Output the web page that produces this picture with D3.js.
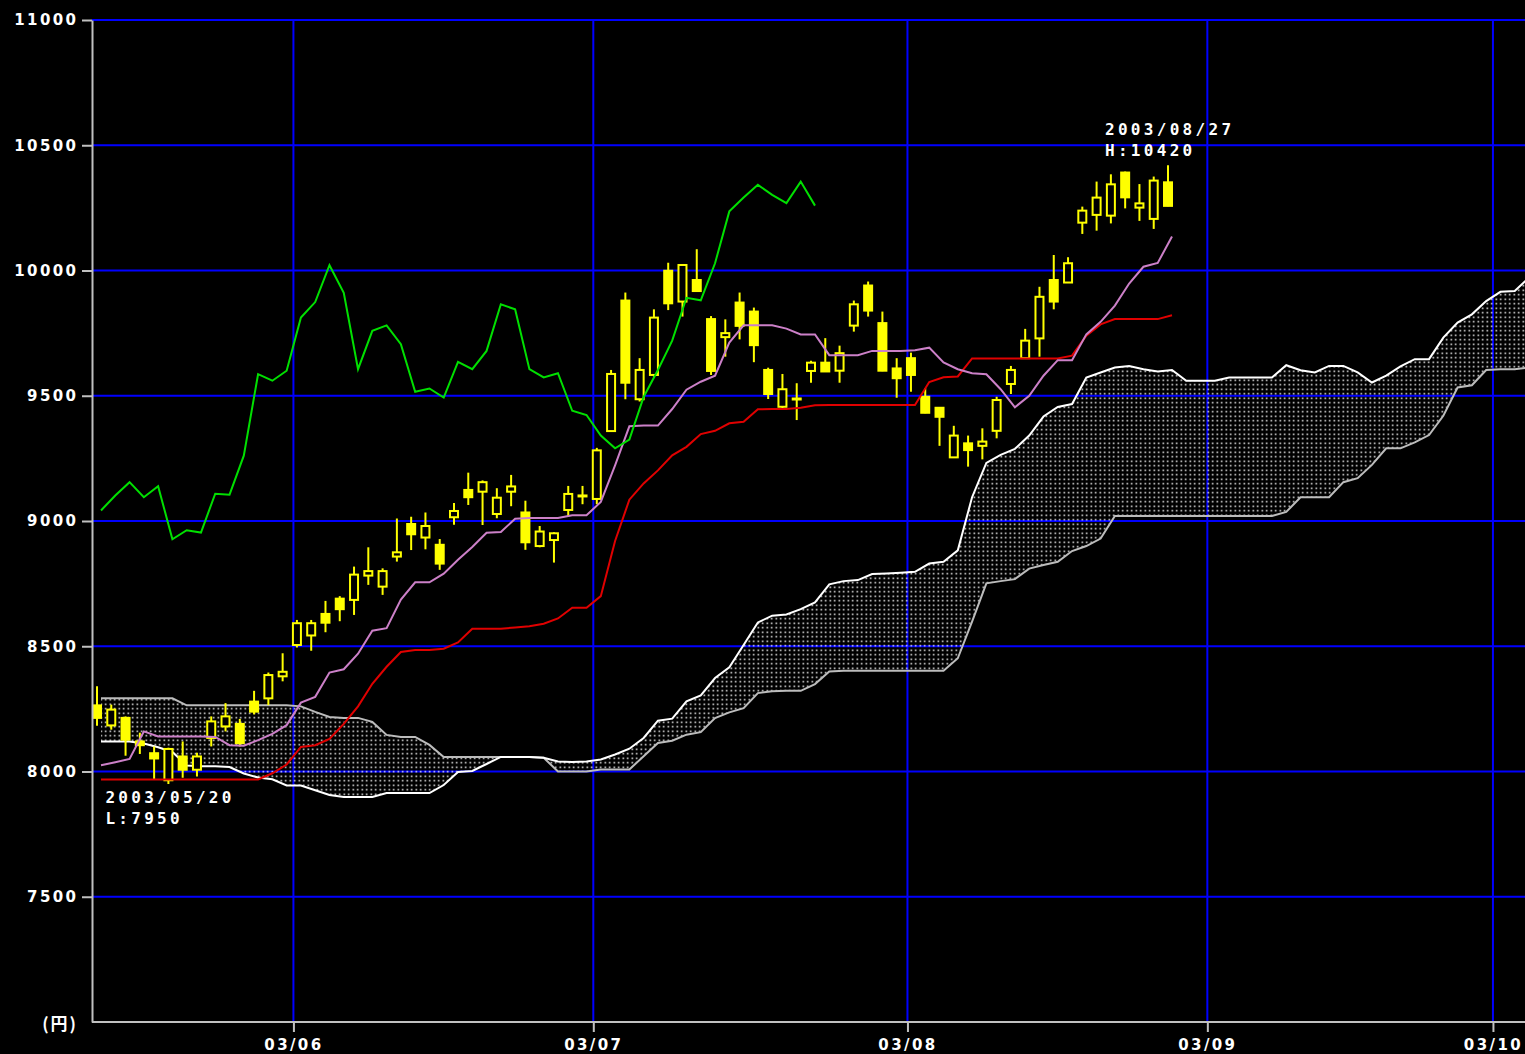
<!DOCTYPE html>
<html>
<head>
<meta charset="utf-8">
<script src="https://cdn.jsdelivr.net/npm/d3@7"></script>
<style>
body { margin: 0; background: #000; }
svg { display: block; background: #000; }
</style>
</head>
<body>
<svg id="chart" width="1525" height="1054"></svg>
<script>
/*=================
=== Data (daily candles 2003/05/13 .. 2003/08/27, index 0..75)
=================*/
const opens = [8264, 8184, 8214, 8120, 8073, 7965, 8060, 8007, 8134, 8180, 8190, 8279, 8292, 8380, 8505, 8543, 8629, 8690, 8685, 8782,
	8738, 8858, 8988, 8934, 8905, 9015, 9124, 9117, 9028, 9117, 9034, 8900, 8924, 9044, 9098, 9088, 9359, 9880, 9486, 9583,
	9999, 9876, 9962, 9806, 9734, 9872, 9836, 9603, 9456, 9485, 9599, 9632, 9600, 9780, 9940, 9790, 9609, 9650, 9496, 9452,
	9254, 9310, 9300, 9360, 9547, 9650, 9729, 9962, 9952, 10191, 10222, 10219, 10391, 10251, 10206, 10352];
const highs = [8340, 8267, 8220, 8155, 8100, 8095, 8120, 8075, 8220, 8273, 8210, 8322, 8395, 8472, 8605, 8605, 8681, 8700, 8818, 8895,
	8811, 9010, 9017, 9034, 8928, 9072, 9193, 9162, 9131, 9184, 9081, 8980, 8955, 9140, 9140, 9292, 9603, 9912, 9650, 9845,
	10031, 10025, 10085, 9818, 9805, 9912, 9852, 9612, 9587, 9550, 9640, 9730, 9700, 9880, 9956, 9836, 9650, 9672, 9530, 9455,
	9380, 9341, 9370, 9496, 9619, 9767, 9935, 10062, 10053, 10255, 10355, 10384, 10395, 10345, 10375, 10420];
const lows = [8183, 8167, 8063, 8070, 7968, 7950, 7975, 7980, 8100, 8160, 8100, 8228, 8265, 8360, 8495, 8482, 8556, 8600, 8625, 8745,
	8705, 8838, 8884, 8887, 8805, 8985, 9064, 8984, 9011, 9059, 8885, 8895, 8834, 9017, 9067, 9067, 9357, 9486, 9477, 9576,
	9842, 9816, 9915, 9583, 9656, 9725, 9634, 9487, 9443, 9403, 9552, 9595, 9552, 9756, 9816, 9598, 9492, 9516, 9430, 9300,
	9252, 9217, 9246, 9330, 9507, 9648, 9656, 9845, 9950, 10146, 10159, 10188, 10248, 10198, 10166, 10256];
const closes = [8214, 8247, 8127, 8105, 8052, 8090, 8007, 8060, 8200, 8220, 8113, 8239, 8385, 8398, 8592, 8592, 8594, 8648, 8786, 8800,
	8800, 8875, 8947, 8980, 8830, 9040, 9095, 9155, 9093, 9138, 8915, 8958, 8951, 9108, 9102, 9282, 9587, 9552, 9603, 9812,
	9869, 10022, 9918, 9599, 9750, 9779, 9702, 9507, 9526, 9489, 9632, 9597, 9670, 9865, 9840, 9600, 9570, 9583, 9432, 9416,
	9341, 9283, 9317, 9483, 9603, 9720, 9895, 9876, 10029, 10239, 10291, 10344, 10292, 10268, 10359, 10258];

// Conversion line (pink), base line (red)
const tenkan = [8025, 8037, 8050, 8160, 8140, 8140, 8140, 8140, 8138, 8105, 8103, 8125, 8150, 8185, 8275, 8298, 8395, 8408, 8470, 8562,
	8572, 8686, 8755, 8755, 8790, 8845, 8896, 8953, 8956, 9009, 9012, 9012, 9012, 9023, 9023, 9076, 9222, 9378, 9381, 9381,
	9447, 9524, 9556, 9580, 9712, 9781, 9781, 9781, 9768, 9745, 9745, 9662, 9662, 9662, 9679, 9679, 9679, 9682, 9692, 9633,
	9606, 9590, 9586, 9526, 9454, 9500, 9580, 9642, 9642, 9745, 9795, 9860, 9948, 10015, 10030, 10136];
const kijun = [7968, 7968, 7968, 7968, 7968, 7968, 7968, 7968, 7968, 7968, 7968, 7968, 7993, 8028, 8098, 8105, 8130, 8190, 8260, 8350,
	8418, 8477, 8485, 8485, 8490, 8515, 8570, 8570, 8570, 8575, 8580, 8590, 8611, 8654, 8654, 8700, 8920, 9085, 9150, 9202,
	9262, 9296, 9347, 9360, 9390, 9396, 9446, 9447, 9447, 9452, 9462, 9463, 9463, 9463, 9463, 9463, 9463, 9463, 9555, 9574,
	9577, 9649, 9649, 9649, 9649, 9649, 9649, 9649, 9660, 9740, 9785, 9806, 9806, 9806, 9806, 9821];

// Lagging line (green), plotted 25 sessions back
const chikou = [9042, 9102, 9155, 9095, 9139, 8927, 8963, 8954, 9109, 9105, 9261, 9586, 9560, 9600, 9812, 9874, 10021, 9911, 9606, 9759,
	9781, 9706, 9516, 9529, 9493, 9635, 9606, 9679, 9865, 9845, 9606, 9573, 9590, 9440, 9423, 9341, 9290, 9325, 9495, 9603,
	9720, 9891, 9881, 10029, 10236, 10291, 10342, 10302, 10269, 10355, 10259];

// Leading spans (cloud), plotted 25 sessions ahead
const senkouA = [8120, 8120, 8120, 8112, 8097, 8078, 8024, 8021, 8021, 8018, 7992, 7976, 7969, 7944, 7944, 7925, 7906, 7898, 7898, 7898,
	7914, 7914, 7914, 7914, 7946, 7998, 8002, 8030, 8058, 8058, 8058, 8055, 8040, 8038, 8040, 8048, 8068, 8091, 8134, 8203,
	8211, 8280, 8304, 8373, 8416, 8505, 8595, 8622, 8627, 8648, 8675, 8747, 8760, 8764, 8788, 8790, 8793, 8797, 8830, 8837,
	8883, 9095, 9232, 9264, 9288, 9341, 9417, 9455, 9467, 9573, 9593, 9613, 9619, 9606, 9597, 9603, 9560, 9560, 9560, 9573,
	9573, 9573, 9573, 9622, 9602, 9593, 9619, 9619, 9593, 9553, 9580, 9617, 9646, 9646, 9732, 9792, 9825, 9878, 9915, 9918,
	9971];
const senkouB = [8292, 8292, 8292, 8292, 8292, 8292, 8264, 8264, 8264, 8264, 8264, 8264, 8264, 8264, 8260, 8238, 8218, 8214, 8214, 8198,
	8146, 8138, 8138, 8106, 8058, 8058, 8058, 8058, 8058, 8058, 8058, 8055, 8000, 8000, 8000, 8008, 8008, 8008, 8061, 8114,
	8123, 8147, 8157, 8213, 8236, 8253, 8313, 8320, 8322, 8322, 8349, 8399, 8402, 8402, 8402, 8402, 8402, 8402, 8402, 8402,
	8452, 8598, 8751, 8760, 8768, 8810, 8824, 8837, 8880, 8900, 8930, 9020, 9020, 9020, 9020, 9020, 9020, 9020, 9020, 9020,
	9020, 9020, 9020, 9036, 9095, 9095, 9095, 9155, 9171, 9224, 9290, 9290, 9314, 9343, 9420, 9533, 9542, 9603, 9606, 9606,
	9613];

// Axis ticks
const priceTicks = [7500, 8000, 8500, 9000, 9500, 10000, 10500, 11000];
const monthTicks = [14, 35, 57, 78, 98]; // first session of each month
const monthLabels = ['03/06', '03/07', '03/08', '03/09', '03/10'];

// Low / high notes
const lowNote = { index: 5, lines: ['2003/05/20', 'L:7950'], value: 7950 };
const highNote = { index: 75, lines: ['2003/08/27', 'H:10420'], value: 10420 };

/*=================
=== Scales & setup
=================*/
const svg = d3.select('#chart');
const plot = { left: 92, right: 1525, top: 20, bottom: 1022 };

const xScale = d3.scaleLinear().domain([0, 100]).range([97, 1525]); // one session ~14.28px
const yScale = d3.scaleLinear().domain([7000, 11000]).range([plot.bottom, plot.top]);

const lineShift = 4;   // lines sit a bit right of candle centres
const gridShift = -3.5; // month gridlines sit a bit left

const colors = {
	grid: '#0000ff',
	axis: '#c0c0c0',
	candle: '#ffff00',
	tenkan: '#cc80c8',
	kijun: '#e00000',
	chikou: '#00e000',
	spanA: '#ffffff',
	spanB: '#bcbcbc'
};

// dotted pattern for the cloud
const defs = svg.append('defs');
const pat = defs.append('pattern')
	.attr('id', 'dots')
	.attr('patternUnits', 'userSpaceOnUse')
	.attr('width', 4.5)
	.attr('height', 4.5);
pat.append('rect')
	.attr('x', 1.5).attr('y', 1.5)
	.attr('width', 1.5).attr('height', 1.5)
	.attr('fill', '#ffffff');

/*=================
=== Grid
=================*/
const grid = svg.append('g');
grid.selectAll('.hgrid')
	.data(priceTicks)
	.enter().append('line')
	.attr('x1', plot.left).attr('x2', plot.right)
	.attr('y1', d => yScale(d)).attr('y2', d => yScale(d))
	.attr('stroke', colors.grid).attr('stroke-width', 2);
grid.selectAll('.vgrid')
	.data(monthTicks)
	.enter().append('line')
	.attr('x1', d => xScale(d) + gridShift).attr('x2', d => xScale(d) + gridShift)
	.attr('y1', plot.top).attr('y2', plot.bottom)
	.attr('stroke', colors.grid).attr('stroke-width', 2);

/*=================
=== Cloud
=================*/
const cloud = d3.range(senkouA.length).map(i => ({ i, a: senkouA[i], b: senkouB[i] }));
svg.append('path')
	.datum(cloud)
	.attr('d', d3.area()
		.x(d => xScale(d.i) + lineShift)
		.y0(d => yScale(d.a))
		.y1(d => yScale(d.b)))
	.attr('fill', 'url(#dots)');

const lineGen = d3.line()
	.x((d, i) => xScale(i) + lineShift)
	.y(d => yScale(d));

svg.append('path').datum(senkouB).attr('d', lineGen)
	.attr('fill', 'none').attr('stroke', colors.spanB).attr('stroke-width', 2);
svg.append('path').datum(senkouA).attr('d', lineGen)
	.attr('fill', 'none').attr('stroke', colors.spanA).attr('stroke-width', 2);

/*=================
=== Candles
=================*/
const candles = d3.range(opens.length).map(i => ({ i, o: opens[i], h: highs[i], l: lows[i], c: closes[i] }));
const bodyW = 8;

const cg = svg.append('g').selectAll('g')
	.data(candles)
	.enter().append('g');

cg.append('line')
	.attr('x1', d => xScale(d.i)).attr('x2', d => xScale(d.i))
	.attr('y1', d => yScale(d.h)).attr('y2', d => yScale(d.l))
	.attr('stroke', colors.candle).attr('stroke-width', 2);

cg.append('rect')
	.attr('x', d => xScale(d.i) - bodyW / 2)
	.attr('y', d => yScale(Math.max(d.o, d.c)))
	.attr('width', bodyW)
	.attr('height', d => Math.max(1, yScale(Math.min(d.o, d.c)) - yScale(Math.max(d.o, d.c))))
	.attr('fill', d => d.c >= d.o ? '#000' : colors.candle) // hollow = up, filled = down
	.attr('stroke', colors.candle).attr('stroke-width', 2);

/*=================
=== Indicator lines
=================*/
svg.append('path').datum(kijun).attr('d', lineGen)
	.attr('fill', 'none').attr('stroke', colors.kijun).attr('stroke-width', 2);
svg.append('path').datum(tenkan).attr('d', lineGen)
	.attr('fill', 'none').attr('stroke', colors.tenkan).attr('stroke-width', 2);
svg.append('path').datum(chikou).attr('d', lineGen)
	.attr('fill', 'none').attr('stroke', colors.chikou).attr('stroke-width', 2);

/*=================
=== Axes
=================*/
const yAxis = svg.append('g')
	.attr('transform', `translate(${plot.left},0)`)
	.call(d3.axisLeft(yScale).tickValues(priceTicks).tickFormat(d3.format('d'))
		.tickSize(10).tickSizeOuter(0).tickPadding(6));
const xTickScale = d3.scaleLinear().domain([0, 100]).range([97 + gridShift, 1525 + gridShift]);
const xAxis = svg.append('g')
	.attr('transform', `translate(0,${plot.bottom})`)
	.call(d3.axisBottom(xTickScale).tickValues(monthTicks).tickFormat((d, i) => monthLabels[i]).tickSize(10).tickPadding(7));
xAxis.select('.domain').remove();

svg.append('line')
	.attr('x1', plot.left).attr('x2', plot.right)
	.attr('y1', plot.bottom).attr('y2', plot.bottom)
	.attr('stroke', colors.axis).attr('stroke-width', 2);

[yAxis, xAxis].forEach(ax => {
	ax.selectAll('.domain, line').attr('stroke', colors.axis).attr('stroke-width', 2);
	ax.selectAll('text')
		.attr('fill', '#fff')
		.style('font-family', "'DejaVu Sans', sans-serif")
		.style('font-weight', 'bold')
		.style('font-size', '15px')
		.style('letter-spacing', '2.4px');
});
yAxis.selectAll('text').attr('dx', '2.4px');

svg.append('text')
	.attr('x', 78).attr('y', plot.bottom + 8)
	.attr('text-anchor', 'end')
	.attr('fill', '#fff')
	.style('font-family', "'Noto Sans CJK JP', sans-serif")
	.style('font-weight', 'bold')
	.style('font-size', '17px')
	.style('letter-spacing', '2px')
	.text('(円)');

/*=================
=== High / low notes
=================*/
function note(n, dy) {
	svg.append('g').selectAll('text')
		.data(n.lines)
		.enter().append('text')
		.attr('x', xScale(n.index) - 63)
		.attr('y', (d, i) => yScale(n.value) + dy + i * 21)
		.attr('fill', '#fff')
		.style('font-family', "'DejaVu Sans Mono', monospace")
		.style('font-weight', 'bold')
		.style('font-size', '16px')
		.style('letter-spacing', '3.3px')
		.text(d => d);
}
note(lowNote, 19);
note(highNote, -30);
</script>
</body>
</html>
